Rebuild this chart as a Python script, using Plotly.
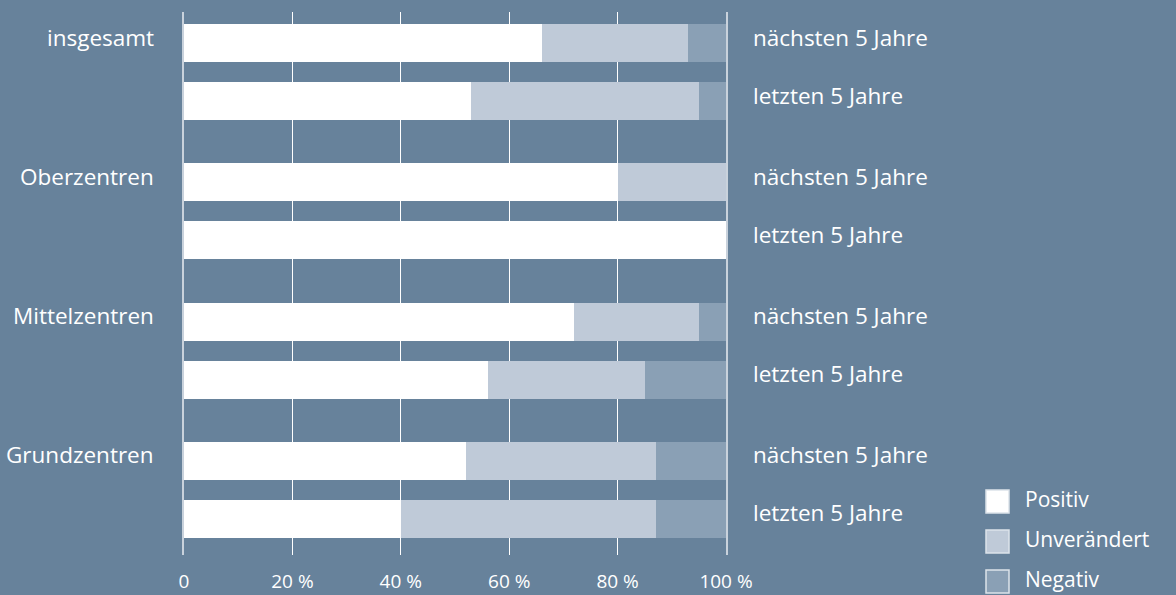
import plotly.graph_objects as go

# Survey results: assessment of development, per centre type and period (%)
groups = ["insgesamt", "Oberzentren", "Mittelzentren", "Grundzentren"]
periods = ["nächsten 5 Jahre", "letzten 5 Jahre"]

positiv = [66, 53, 80, 100, 72, 56, 52, 40]
unveraendert = [27, 42, 20, 0, 23, 29, 35, 47]
negativ = [7, 5, 0, 0, 5, 15, 13, 13]

series_names = ["Positiv", "Unverändert", "Negativ"]
series_values = [positiv, unveraendert, negativ]

x_ticks = [0, 20, 40, 60, 80, 100]
x_ticktext = ["0", "20 %", "40 %", "60 %", "80 %", "100 %"]

# Styling
BG = "#67829b"
COLORS = ["#ffffff", "#bfcad8", "#8aa0b5"]
EDGE = "#c9d2dc"
FONT = "Open Sans"
TEXT = "#ffffff"
LABEL_SIZE = 22.5

# Layout geometry (row units: one unit = distance between the two bars of a group)
GROUP_PITCH = 2.4
BAR_WIDTH = 0.655
ML, MR, MT, MB = 184, 450, 12, 40
W, H = 1176, 595

rows = [g * GROUP_PITCH + s for g in range(len(groups)) for s in range(len(periods))]
row_periods = [p for _ in groups for p in periods]

fig = go.Figure()
for name, vals, col in zip(series_names, series_values, COLORS):
    fig.add_trace(go.Bar(
        x=vals, y=rows, orientation="h", name=name,
        width=BAR_WIDTH, marker=dict(color=col, line=dict(width=0)),
        showlegend=False, hoverinfo="x+name",
    ))

annotations = []
# Group labels on the left
for g, name in enumerate(groups):
    annotations.append(dict(
        x=0, y=rows[g * len(periods)], xref="x", yref="y", text=name,
        xanchor="right", yanchor="middle", xshift=-28, yshift=6,
        showarrow=False, font=dict(family=FONT, size=LABEL_SIZE, color=TEXT),
    ))
# Period labels on the right
for r, p in zip(rows, row_periods):
    annotations.append(dict(
        x=100, y=r, xref="x", yref="y", text=p,
        xanchor="left", yanchor="middle", xshift=25, yshift=6,
        showarrow=False, font=dict(family=FONT, size=LABEL_SIZE, color=TEXT),
    ))

# Legend drawn as swatches with labels, lower right
plot_w = W - ML - MR
plot_h = H - MT - MB


def px_to_paper_x(px):
    return (px - ML) / plot_w


def px_to_paper_y(py):
    return (H - MB - py) / plot_h


shapes = []
LEG_X, LEG_Y0, LEG_STEP, SW = 986, 490, 40, 23
for i, (name, col) in enumerate(zip(series_names, COLORS)):
    top = LEG_Y0 + i * LEG_STEP
    shapes.append(dict(
        type="rect", xref="paper", yref="paper",
        x0=px_to_paper_x(LEG_X), x1=px_to_paper_x(LEG_X + SW),
        y0=px_to_paper_y(top + SW), y1=px_to_paper_y(top),
        fillcolor=col, line=dict(color="#dde3ea", width=1.5), layer="above",
    ))
    annotations.append(dict(
        x=px_to_paper_x(LEG_X + SW + 14), y=px_to_paper_y(top + SW / 2),
        xref="paper", yref="paper", text=name, xanchor="left", yanchor="middle",
        yshift=3, showarrow=False, font=dict(family=FONT, size=21, color=TEXT),
    ))

top_pad = 31 / 58
bottom_pad = (555 - 519) / 58
fig.update_layout(
    width=W, height=H,
    margin=dict(l=ML, r=MR, t=MT, b=MB, autoexpand=False),
    paper_bgcolor=BG, plot_bgcolor=BG,
    barmode="stack", bargap=0,
    annotations=annotations, shapes=shapes,
    font=dict(family=FONT, color=TEXT, size=19),
    xaxis=dict(
        range=[0, 100], tickvals=x_ticks, ticktext=x_ticktext,
        showgrid=True, gridcolor="#ffffff", gridwidth=1,
        zeroline=False, showline=False, ticks="", automargin=False,
        ticklabelstandoff=13, tickfont=dict(family=FONT, size=19, color=TEXT),
        fixedrange=True,
    ),
    yaxis=dict(
        range=[rows[-1] + bottom_pad, rows[0] - top_pad],
        showticklabels=False, showgrid=False, zeroline=False,
        showline=True, mirror=True, linecolor=EDGE, linewidth=1.5,
        layer="below traces", ticks="", fixedrange=True, automargin=False,
    ),
)

fig.write_html("out.html")
